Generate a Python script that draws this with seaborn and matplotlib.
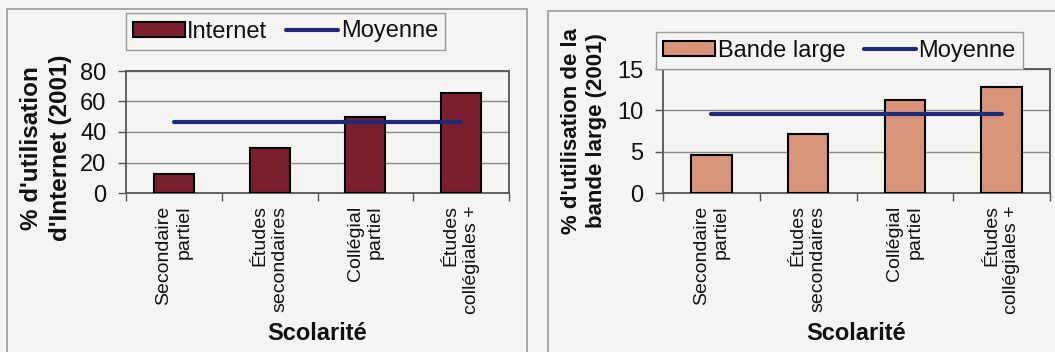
import matplotlib
matplotlib.use("Agg")
import matplotlib.pyplot as plt
import seaborn as sns
import pandas as pd
from matplotlib.patches import Rectangle, Patch
from matplotlib.lines import Line2D

sns.set_theme(style="white")
plt.rcParams['font.family'] = ['Liberation Sans', 'DejaVu Sans']

categories = ["Secondaire\npartiel", "Études\nsecondaires", "Collégial\npartiel", "Études\ncollégiales +"]
internet = [12.5, 29.5, 49.8, 65.8]
moyenne_internet = [46.4, 46.4, 46.4, 46.4]
bande_large = [4.6, 7.1, 11.2, 12.8]
moyenne_bande = [9.6, 9.6, 9.6, 9.6]
yticks_internet = [0, 20, 40, 60, 80]
yticks_bande = [0, 5, 10, 15]

BG = "#f4f4f2"
MAROON = "#7a1f2e"
TAN = "#d8957a"
NAVY = "#1f2a78"

W, H = 1055, 352
fig = plt.figure(figsize=(W / 100, H / 100), dpi=100, facecolor=BG)

# panel frames
for (x0, y0, x1, y1) in [(7, 9, 527, 360), (548, 11, 1060, 360)]:
    fig.add_artist(Rectangle((x0 / W, 1 - y1 / H), (x1 - x0) / W, (y1 - y0) / H,
                             transform=fig.transFigure, fill=False,
                             edgecolor="#9a9a9a", linewidth=1.2))


def panel(rect, values, mean, color, yticks, ylabel, ylab_size, ylab_pos,
          barlabel, legrect):
    x0, y0, x1, y1 = rect
    ax = fig.add_axes([x0 / W, 1 - y1 / H, (x1 - x0) / W, (y1 - y0) / H])
    ax.set_facecolor(BG)
    df = pd.DataFrame({"cat": categories, "val": values})
    sns.barplot(data=df, x="cat", y="val", color=color, edgecolor="black",
                linewidth=1.5, width=0.42, saturation=1, ax=ax, zorder=3)
    sns.lineplot(x=list(range(len(categories))), y=mean, color=NAVY,
                 linewidth=3, ax=ax, zorder=4)
    ax.set_xlim(-0.5, len(categories) - 0.5)
    ax.set_ylim(yticks[0], yticks[-1])
    ax.set_yticks(yticks)
    ax.set_yticklabels([str(t) for t in yticks], fontsize=17, color="#111111")
    ax.yaxis.grid(True, color="#8a8a8a", linewidth=1.0, zorder=0)
    ax.set_axisbelow(True)
    ax.set_xticks(range(len(categories)))
    ax.set_xticklabels(categories, rotation=90, fontsize=14, color="#111111",
                       ha="center", va="top", multialignment="right",
                       linespacing=1.25)
    ax.tick_params(axis="x", length=0, pad=9)
    ax.tick_params(axis="y", length=6, width=1, color="#555555", pad=8, left=True)
    ax.set_xticks([i + 0.5 for i in range(-1, len(categories))], minor=True)
    ax.tick_params(axis="x", which="minor", length=6, width=1, color="#555555", bottom=True)
    for s in ax.spines.values():
        s.set_color("#555555")
        s.set_linewidth(1.3)
    ax.set_xlabel("Scolarité", fontsize=17, fontweight="bold", color="#111111", labelpad=6)
    ax.set_ylabel(ylabel, fontsize=ylab_size, fontweight="bold", color="#111111",
                  linespacing=1.3, multialignment="center")
    ax.yaxis.set_label_coords(ylab_pos[0] / W, 1 - ylab_pos[1] / H, transform=fig.transFigure)
    ax.yaxis.label.set_va("center")
    handles = [Patch(facecolor=color, edgecolor="black", linewidth=1.5),
               Line2D([0], [0], color=NAVY, linewidth=3)]
    lx0, ly0, lx1, ly1 = legrect
    leg = fig.legend(handles, [barlabel, "Moyenne"], ncol=2, fontsize=17,
                     loc="center", bbox_to_anchor=((lx0 + lx1) / 2 / W, 1 - (ly0 + ly1) / 2 / H),
                     frameon=True, fancybox=False, edgecolor="#9a9a9a",
                     facecolor=BG, framealpha=1, handlelength=2.2, handleheight=0.6,
                     handletextpad=0.1, columnspacing=0.8, borderpad=0.3,
                     borderaxespad=0)
    leg.get_frame().set_linewidth(1.0)
    for t in leg.get_texts():
        t.set_color("#111111")
    return ax


panel((126, 71, 509, 193), internet, moyenne_internet, MAROON, yticks_internet,
      "% d'utilisation\nd'Internet (2001)", 17.5, (46, 148), "Internet", (123, 13, 448, 50))
panel((663, 69, 1050, 193), bande_large, moyenne_bande, TAN, yticks_bande,
      "% d'utilisation de la\nbande large (2001)", 16, (584, 131), "Bande large", (650, 32, 1029, 69))

fig.savefig("out.png", dpi=100, facecolor=BG)
